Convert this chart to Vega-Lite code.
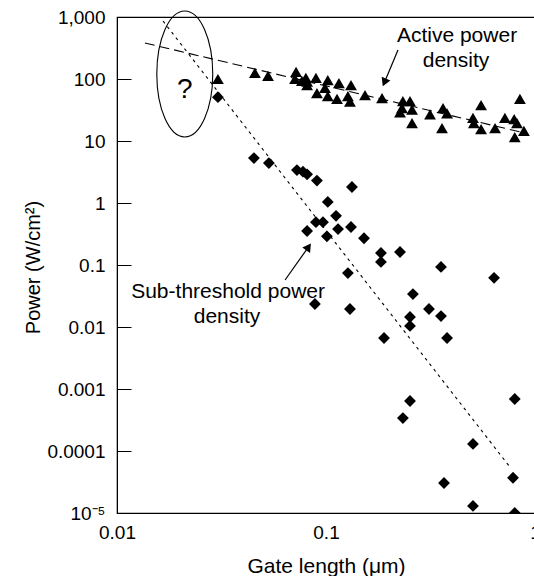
{
  "$schema": "https://vega.github.io/schema/vega-lite/v6.json",
  "width": 418,
  "height": 496,
  "autosize": "none",
  "padding": {"left": 117, "top": 17, "right": 0, "bottom": 63},
  "background": "white",
  "config": {
    "font": "Liberation Sans",
    "view": {"stroke": "black", "strokeWidth": 1.2},
    "axis": {"labelColor": "black", "titleColor": "black", "domainColor": "black", "tickColor": "black", "grid": false, "labelFont": "Liberation Sans", "titleFont": "Liberation Sans", "titleFontWeight": "normal"}
  },
  "datasets": {
    "points": [
      {"s": "active", "x": 0.0304, "y": 100}, {"s": "active", "x": 0.0457, "y": 125}, {"s": "active", "x": 0.0528, "y": 112},
      {"s": "active", "x": 0.0719, "y": 130}, {"s": "active", "x": 0.0711, "y": 100}, {"s": "active", "x": 0.0767, "y": 93},
      {"s": "active", "x": 0.0801, "y": 104}, {"s": "active", "x": 0.0812, "y": 80}, {"s": "active", "x": 0.0812, "y": 91},
      {"s": "active", "x": 0.0895, "y": 104}, {"s": "active", "x": 0.102, "y": 96}, {"s": "active", "x": 0.1153, "y": 86},
      {"s": "active", "x": 0.1317, "y": 80}, {"s": "active", "x": 0.0989, "y": 72}, {"s": "active", "x": 0.0905, "y": 59},
      {"s": "active", "x": 0.102, "y": 53}, {"s": "active", "x": 0.1129, "y": 48}, {"s": "active", "x": 0.1273, "y": 53},
      {"s": "active", "x": 0.1302, "y": 43}, {"s": "active", "x": 0.1537, "y": 55}, {"s": "active", "x": 0.1854, "y": 49},
      {"s": "active", "x": 0.2333, "y": 44}, {"s": "active", "x": 0.2523, "y": 44}, {"s": "active", "x": 0.231, "y": 34},
      {"s": "active", "x": 0.258, "y": 32}, {"s": "active", "x": 0.226, "y": 29}, {"s": "active", "x": 0.258, "y": 19.5},
      {"s": "active", "x": 0.3146, "y": 27}, {"s": "active", "x": 0.363, "y": 34}, {"s": "active", "x": 0.3795, "y": 28},
      {"s": "active", "x": 0.359, "y": 16.2}, {"s": "active", "x": 0.552, "y": 38}, {"s": "active", "x": 0.505, "y": 23.5},
      {"s": "active", "x": 0.51, "y": 19.5}, {"s": "active", "x": 0.552, "y": 15.6}, {"s": "active", "x": 0.644, "y": 16.2},
      {"s": "active", "x": 0.718, "y": 23.5}, {"s": "active", "x": 0.795, "y": 22.6}, {"s": "active", "x": 0.82, "y": 19.5},
      {"s": "active", "x": 0.847, "y": 48}, {"s": "active", "x": 0.885, "y": 14.5}, {"s": "active", "x": 0.8, "y": 11.6},
      {"s": "sub", "x": 0.0304, "y": 51}, {"s": "sub", "x": 0.0452, "y": 5.3}, {"s": "sub", "x": 0.0533, "y": 4.4},
      {"s": "sub", "x": 0.0726, "y": 3.4}, {"s": "sub", "x": 0.0776, "y": 3.2}, {"s": "sub", "x": 0.0812, "y": 2.9},
      {"s": "sub", "x": 0.0905, "y": 2.3}, {"s": "sub", "x": 0.1331, "y": 1.81}, {"s": "sub", "x": 0.102, "y": 1.04},
      {"s": "sub", "x": 0.1117, "y": 0.62}, {"s": "sub", "x": 0.0895, "y": 0.49}, {"s": "sub", "x": 0.0967, "y": 0.49},
      {"s": "sub", "x": 0.0812, "y": 0.353}, {"s": "sub", "x": 0.1142, "y": 0.38}, {"s": "sub", "x": 0.1317, "y": 0.41},
      {"s": "sub", "x": 0.101, "y": 0.29}, {"s": "sub", "x": 0.152, "y": 0.27}, {"s": "sub", "x": 0.1832, "y": 0.156},
      {"s": "sub", "x": 0.1832, "y": 0.112}, {"s": "sub", "x": 0.226, "y": 0.162}, {"s": "sub", "x": 0.1273, "y": 0.074},
      {"s": "sub", "x": 0.355, "y": 0.093}, {"s": "sub", "x": 0.637, "y": 0.062}, {"s": "sub", "x": 0.0885, "y": 0.0235},
      {"s": "sub", "x": 0.1302, "y": 0.0195}, {"s": "sub", "x": 0.2606, "y": 0.034}, {"s": "sub", "x": 0.311, "y": 0.0195},
      {"s": "sub", "x": 0.355, "y": 0.015}, {"s": "sub", "x": 0.2523, "y": 0.0145}, {"s": "sub", "x": 0.2523, "y": 0.0104},
      {"s": "sub", "x": 0.1895, "y": 0.00665}, {"s": "sub", "x": 0.3795, "y": 0.00665}, {"s": "sub", "x": 0.2523, "y": 0.00064},
      {"s": "sub", "x": 0.2333, "y": 0.00034}, {"s": "sub", "x": 0.8, "y": 0.00069}, {"s": "sub", "x": 0.505, "y": 0.00013},
      {"s": "sub", "x": 0.367, "y": 0.0000305}, {"s": "sub", "x": 0.785, "y": 0.000037}, {"s": "sub", "x": 0.505, "y": 0.000013},
      {"s": "sub", "x": 0.8, "y": 0.00001}
    ],
    "trend": [
      {"s": "active", "x": 0.0136, "y": 381}, {"s": "active", "x": 0.85, "y": 14},
      {"s": "sub", "x": 0.0166, "y": 861}, {"s": "sub", "x": 0.759, "y": 0.000055}
    ],
    "notes": [
      {"t": "Active power", "x": 0.4236, "y": 494},
      {"t": "density", "x": 0.4188, "y": 195},
      {"t": "Sub-threshold power", "x": 0.034, "y": 0.0367},
      {"t": "density", "x": 0.0336, "y": 0.0145}
    ]
  },
  "layer": [
    {
      "data": {"name": "trend"},
      "mark": {"type": "line", "color": "black", "strokeWidth": 1.1, "clip": true},
      "encoding": {
        "x": {"field": "x", "type": "quantitative", "scale": {"type": "log", "domain": [0.01, 1], "nice": false},
          "axis": {"values": [0.01, 0.1, 1], "labelExpr": "toString(datum.value)", "labelFlush": false, "ticks": false, "labelPadding": 10, "labelFontSize": 19, "title": "Gate length (μm)", "titleFontSize": 21, "titleY": 59, "titleBaseline": "alphabetic", "domain": true}},
        "y": {"field": "y", "type": "quantitative", "scale": {"type": "log", "domain": [0.00001, 1000], "nice": false},
          "axis": {"values": [0.00001, 0.0001, 0.001, 0.01, 0.1, 1, 10, 100, 1000], "labelExpr": "datum.value < 0.00005 ? '10⁻⁵' : datum.value >= 1000 ? '1,000' : toString(datum.value)", "labelFlush": false, "tickSize": -14, "labelPadding": 26, "labelFontSize": 19, "title": "Power (W/cm²)", "titleFontSize": 20, "titleX": -84, "titleY": 250, "titleBaseline": "middle"}},
        "detail": {"field": "s"},
        "strokeDash": {"field": "s", "type": "nominal", "scale": {"domain": ["active", "sub"], "range": [[10, 5], [3, 4]]}, "legend": null}
      }
    },
    {
      "data": {"name": "points"},
      "mark": {"type": "point", "filled": true, "color": "black", "opacity": 1, "clip": true},
      "encoding": {
        "x": {"field": "x", "type": "quantitative"},
        "y": {"field": "y", "type": "quantitative"},
        "shape": {"field": "s", "type": "nominal", "scale": {"domain": ["active", "sub"], "range": ["triangle-up", "diamond"]}, "legend": null},
        "size": {"value": 140}
      }
    },
    {
      "data": {"values": [{}]},
      "mark": {"type": "point", "filled": false, "stroke": "black", "strokeWidth": 1.1, "opacity": 1, "size": 15876,
        "shape": "M0,-1 C0.245,-1 0.444,-0.552 0.444,0 C0.444,0.552 0.245,1 0,1 C-0.245,1 -0.444,0.552 -0.444,0 C-0.444,-0.552 -0.245,-1 0,-1 Z"},
      "encoding": {"x": {"datum": 0.0211}, "y": {"datum": 120.5}}
    },
    {
      "data": {"values": [{}]},
      "mark": {"type": "text", "text": "?", "fontSize": 28, "align": "center", "baseline": "middle", "color": "black"},
      "encoding": {"x": {"datum": 0.0211}, "y": {"datum": 66.5}}
    },
    {
      "data": {"name": "notes"},
      "mark": {"type": "text", "fontSize": 21, "align": "center", "baseline": "middle", "color": "black"},
      "encoding": {"x": {"field": "x", "type": "quantitative"}, "y": {"field": "y", "type": "quantitative"}, "text": {"field": "t"}}
    },
    {
      "data": {"values": [{}]},
      "mark": {"type": "rule", "color": "black", "strokeWidth": 1.2},
      "encoding": {"x": {"datum": 0.221}, "y": {"datum": 294}, "x2": {"datum": 0.1903}, "y2": {"datum": 87.9}}
    },
    {
      "data": {"values": [{}]},
      "mark": {"type": "point", "shape": "triangle-up", "filled": true, "color": "black", "opacity": 1, "size": 90, "angle": 203},
      "encoding": {"x": {"datum": 0.1903}, "y": {"datum": 87.9}}
    },
    {
      "data": {"values": [{}]},
      "mark": {"type": "rule", "color": "black", "strokeWidth": 1.2},
      "encoding": {"x": {"datum": 0.0637}, "y": {"datum": 0.0573}, "x2": {"datum": 0.0825}, "y2": {"datum": 0.196}}
    },
    {
      "data": {"values": [{}]},
      "mark": {"type": "point", "shape": "triangle-up", "filled": true, "color": "black", "opacity": 1, "size": 90, "angle": 35},
      "encoding": {"x": {"datum": 0.0825}, "y": {"datum": 0.196}}
    }
  ]
}
